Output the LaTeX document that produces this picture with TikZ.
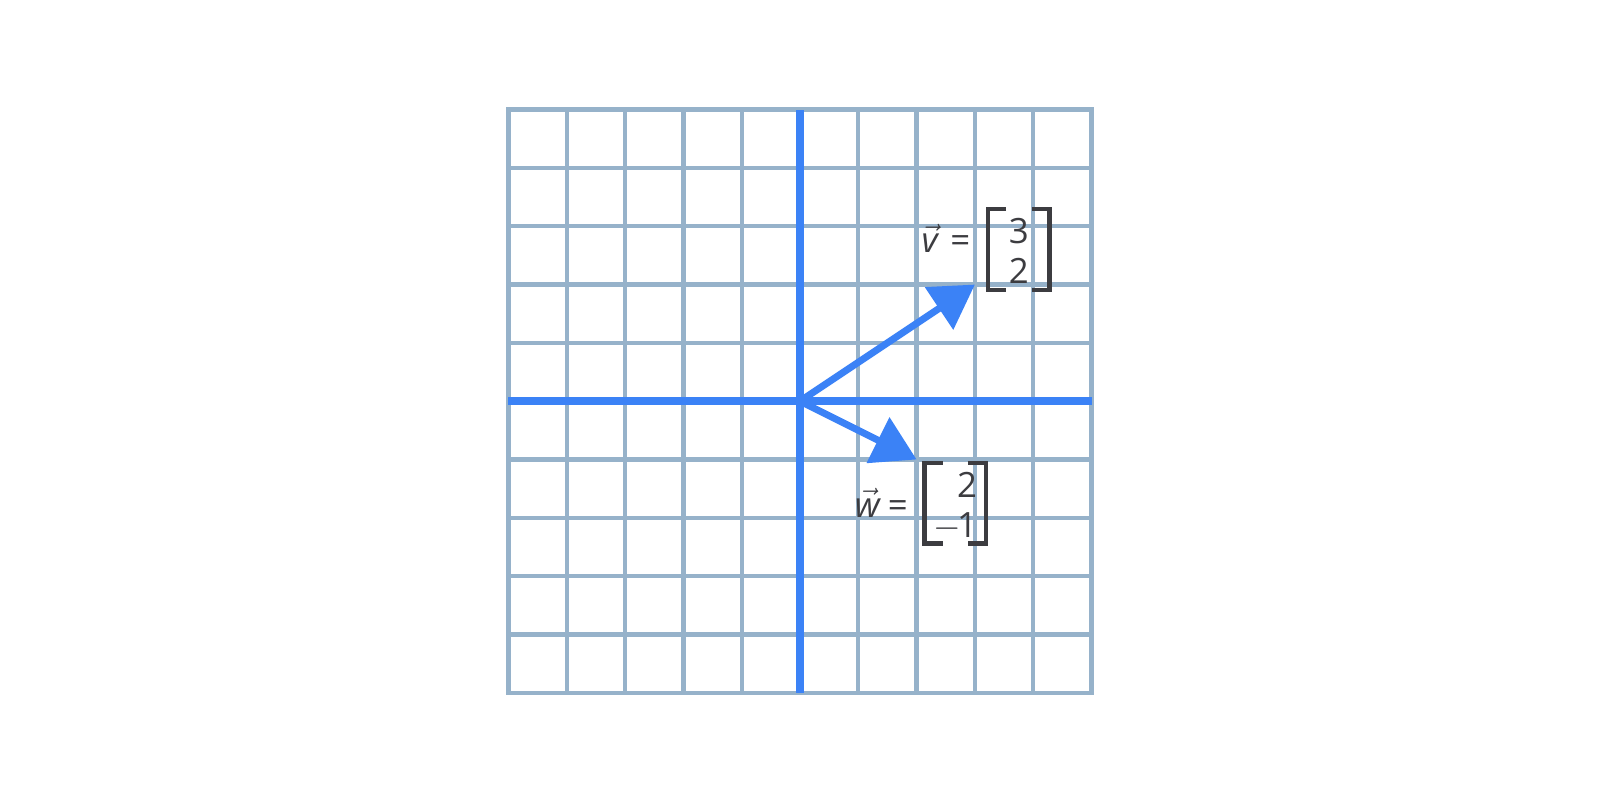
\documentclass[tikz,border=0pt]{standalone}
\usepackage{fontspec}
\setmainfont{Open Sans}
\usetikzlibrary{arrows.meta}
\definecolor{gridblue}{RGB}{150,178,202}
\definecolor{axisblue}{RGB}{59,130,246}
\definecolor{labelgray}{RGB}{60,60,64}

\begin{document}
\begin{tikzpicture}[
    gridline/.style={line width=2.1pt,gridblue},
    axisline/.style={line width=3.6pt,axisblue},
    vecline/.style={line width=3.4pt,axisblue,-{Triangle[length=0.74cm,width=0.85cm]}},
    lbl/.style={text=labelgray,font=\fontsize{17}{19.6}\selectfont,inner sep=0pt,anchor=base},
    colvec/.style={lbl,anchor=center,minimum width=1.04cm,text height=36.2pt,text depth=2.8pt},
    bracket/.style={line width=2.1pt,labelgray}]
    \useasboundingbox (-13.72,-6.88) rectangle (13.72,6.88);

    % grid
    \draw[gridline] (-5,-5) grid (5,5);
    \draw[gridline] (-5,-5) rectangle (5,5);

    % axes
    \draw[axisline] (-5,0) -- (5,0);
    \draw[axisline] (0,-5) -- (0,5);

    % vectors
    \coordinate (o) at (0,0);
    \coordinate (v) at (3,2);
    \coordinate (w) at (2,-1);
    \draw[vecline] (o) -- (v);
    \draw[vecline] (o) -- (w);

    % label of v
    \node[lbl] (vname) at (2.24,2.55) {$\vec{\mbox{\textit{v}}}$};
    \node[lbl] (veq) at (2.75,2.55) {=};
    \node[colvec] (vmat) at (3.754,2.603) {\begin{tabular}[b]{@{}r@{}}3\\2\end{tabular}};
    \draw[bracket] ([xshift=0.31cm]vmat.north west) -- (vmat.north west) -- (vmat.south west) -- ([xshift=0.31cm]vmat.south west);
    \draw[bracket] ([xshift=-0.31cm]vmat.north east) -- (vmat.north east) -- (vmat.south east) -- ([xshift=-0.31cm]vmat.south east);

    % label of w
    \node[lbl] (wname) at (1.165,-1.99) {$\vec{\mbox{\textit{w}}}$};
    \node[lbl] (weq) at (1.68,-1.99) {=};
    \node[colvec] (wmat) at (2.664,-1.75) {\begin{tabular}[b]{@{}r@{}}2\\$-$\kern-0.12em1\end{tabular}};
    \draw[bracket] ([xshift=0.31cm]wmat.north west) -- (wmat.north west) -- (wmat.south west) -- ([xshift=0.31cm]wmat.south west);
    \draw[bracket] ([xshift=-0.31cm]wmat.north east) -- (wmat.north east) -- (wmat.south east) -- ([xshift=-0.31cm]wmat.south east);
\end{tikzpicture}
\end{document}
